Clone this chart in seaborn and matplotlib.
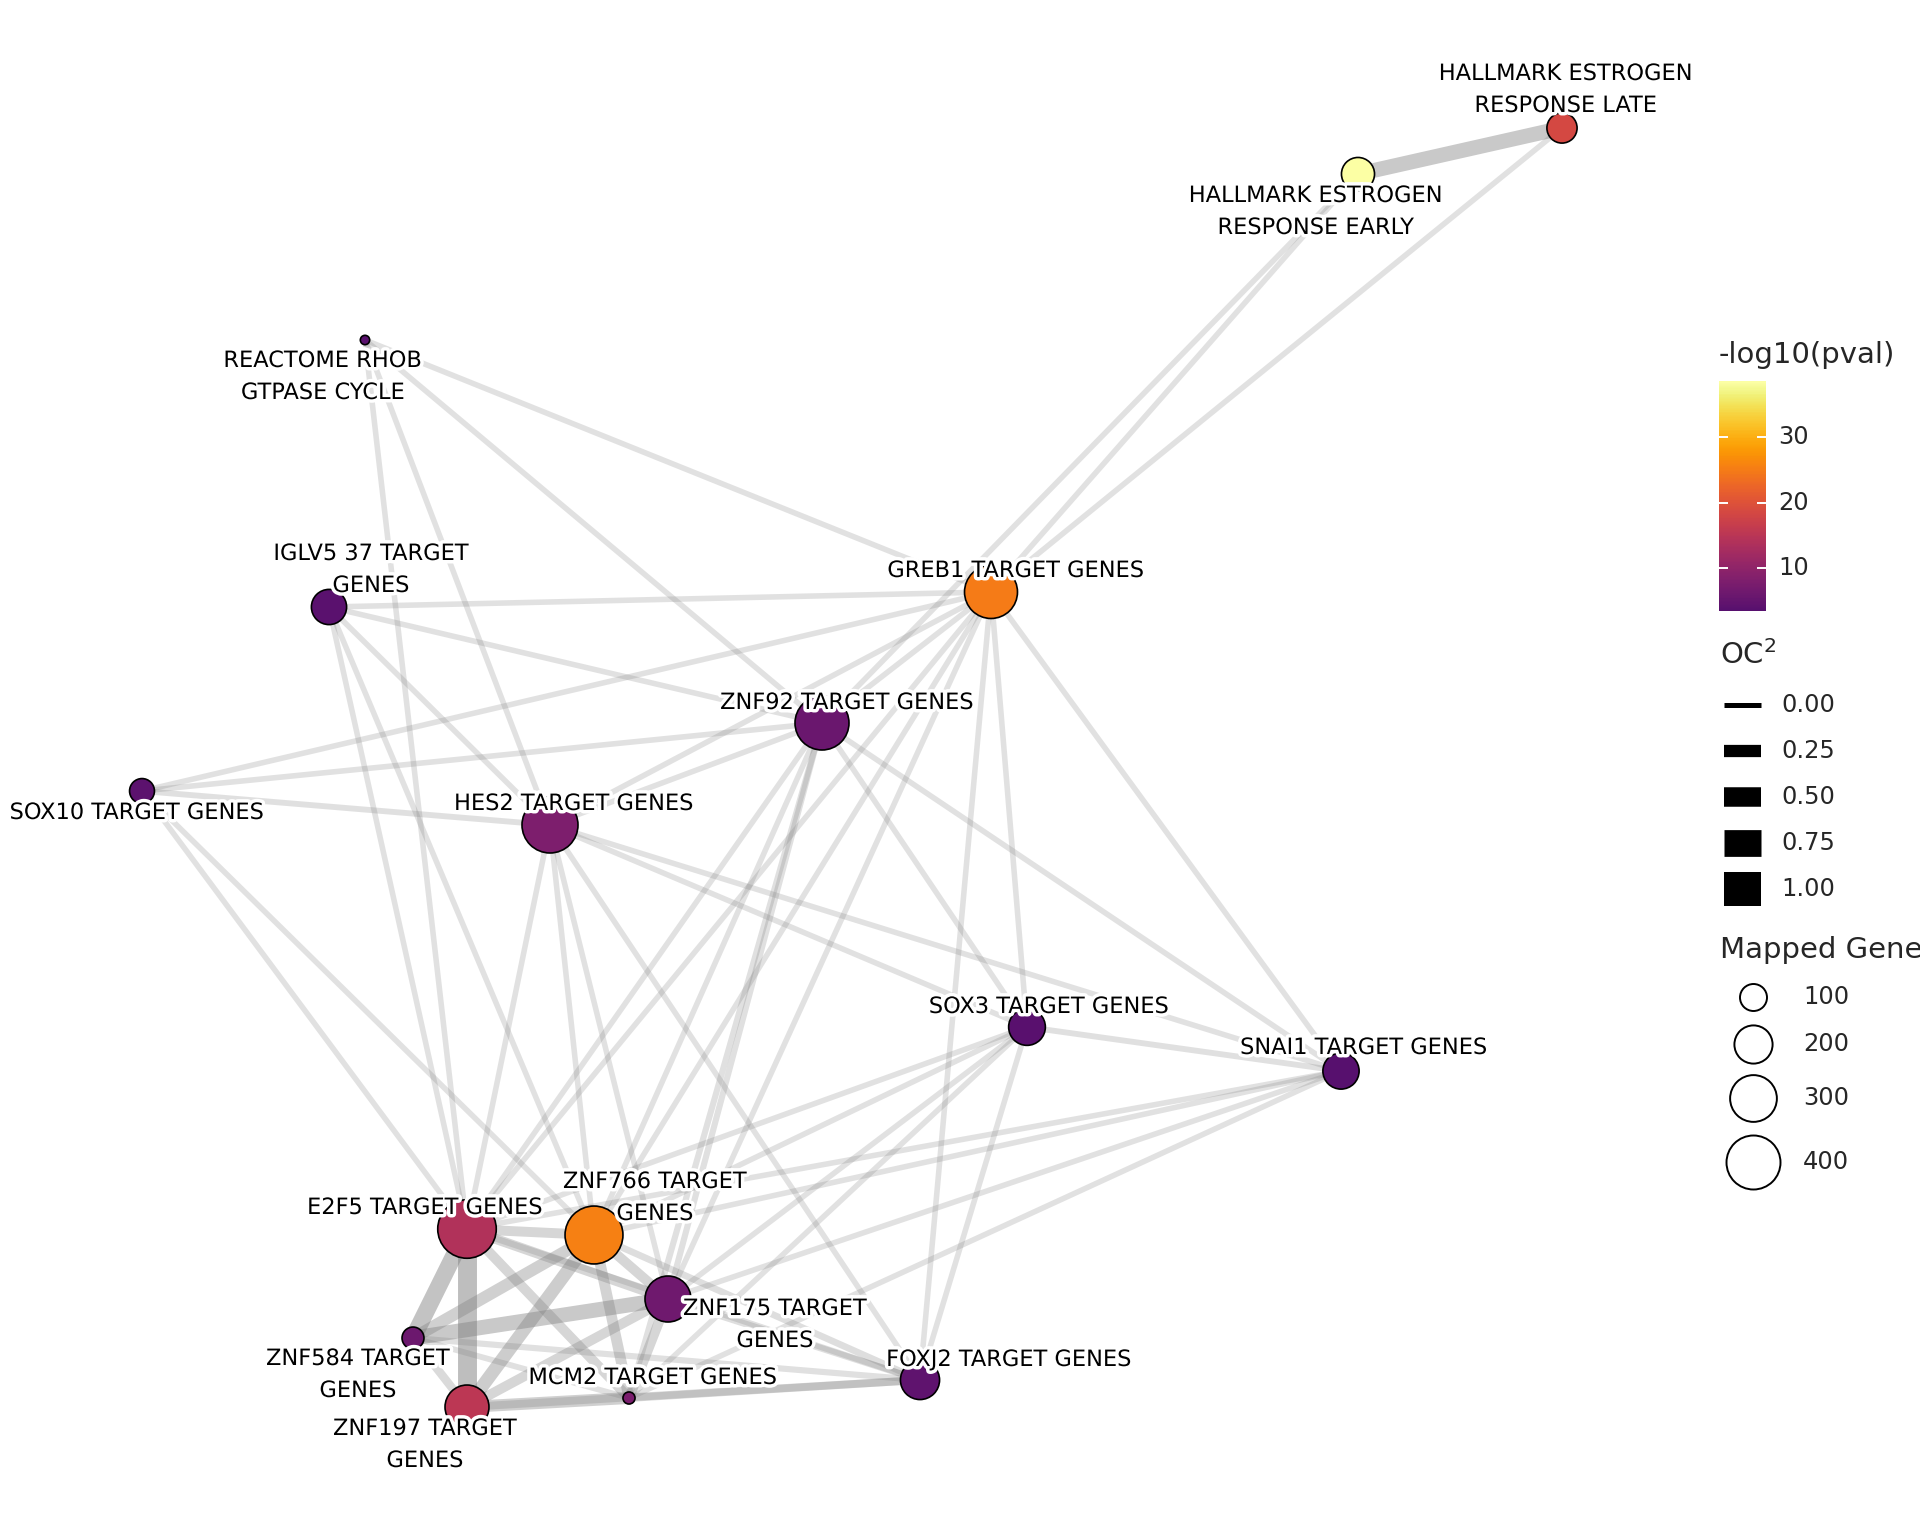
import numpy as np
import pandas as pd
import matplotlib
matplotlib.use("Agg")
import matplotlib.pyplot as plt
import matplotlib.patheffects as pe
from matplotlib.colors import ListedColormap, Normalize
from matplotlib.collections import LineCollection
import seaborn as sns

# ---------------- data ----------------
nodes = ["HALLMARK EARLY", "HALLMARK LATE", "REACTOME", "IGLV5", "GREB1", "ZNF92",
         "SOX10", "HES2", "SOX3", "SNAI1", "E2F5", "ZNF766", "ZNF175", "ZNF584",
         "MCM2", "ZNF197", "FOXJ2"]
node_labels = ["HALLMARK ESTROGEN\nRESPONSE EARLY", "HALLMARK ESTROGEN\nRESPONSE LATE",
               "REACTOME RHOB\nGTPASE CYCLE", "IGLV5 37 TARGET\nGENES", "GREB1 TARGET GENES",
               "ZNF92 TARGET GENES", "SOX10 TARGET GENES", "HES2 TARGET GENES",
               "SOX3 TARGET GENES", "SNAI1 TARGET GENES", "E2F5 TARGET GENES",
               "ZNF766 TARGET\nGENES", "ZNF175 TARGET\nGENES", "ZNF584 TARGET\nGENES",
               "MCM2 TARGET GENES", "ZNF197 TARGET\nGENES", "FOXJ2 TARGET GENES"]
# network layout coordinates
layout_x = [1358, 1562, 365, 329, 991, 822, 142, 550, 1027, 1341, 467, 594, 668, 413, 629, 467, 920]
layout_y = [174, 128, 340, 607, 592, 723, 791, 825, 1027, 1071, 1229, 1235, 1299, 1338, 1398, 1407, 1380]
neg_log10_pval = [38.4, 18.5, 4.0, 4.0, 25.0, 5.8, 4.2, 8.0, 3.8, 3.6, 14.0, 25.5, 6.3, 6.0, 7.7, 15.2, 4.5]
mapped_genes = [150, 125, 12, 170, 385, 400, 85, 430, 185, 180, 470, 460, 290, 66, 20, 265, 210]
# label anchor positions (layout units)
label_x = [1316, 1566, 323, 371, 1016, 847, 137, 574, 1049, 1364, 425, 655, 775, 358, 653, 425, 1009]
label_y = [212, 90, 377, 570, 571, 703, 813, 804, 1007, 1048, 1208, 1198, 1325, 1375, 1378, 1445, 1360]

edge_from = ["HALLMARK EARLY", "HALLMARK EARLY", "HALLMARK EARLY", "HALLMARK LATE",
             "REACTOME", "REACTOME", "REACTOME", "REACTOME",
             "IGLV5", "IGLV5", "IGLV5", "IGLV5", "IGLV5",
             "SOX10", "SOX10", "SOX10", "SOX10", "SOX10",
             "GREB1", "GREB1", "GREB1", "GREB1", "GREB1", "GREB1", "GREB1", "GREB1",
             "ZNF92", "ZNF92", "ZNF92", "ZNF92", "ZNF92", "ZNF92", "ZNF92",
             "HES2", "HES2", "HES2", "HES2", "HES2", "HES2",
             "SOX3", "SOX3", "SOX3", "SOX3", "SOX3", "SOX3",
             "SNAI1", "SNAI1", "SNAI1", "SNAI1",
             "E2F5", "E2F5", "E2F5", "E2F5", "E2F5", "E2F5",
             "ZNF766", "ZNF766", "ZNF766", "ZNF766", "ZNF766",
             "ZNF175", "ZNF175", "ZNF175", "ZNF175",
             "ZNF584", "ZNF584", "ZNF584",
             "ZNF197", "ZNF197", "MCM2"]
edge_to = ["HALLMARK LATE", "GREB1", "ZNF92", "GREB1",
           "GREB1", "ZNF92", "HES2", "E2F5",
           "GREB1", "ZNF92", "HES2", "E2F5", "ZNF766",
           "GREB1", "ZNF92", "HES2", "E2F5", "ZNF766",
           "ZNF92", "HES2", "SOX3", "SNAI1", "FOXJ2", "E2F5", "ZNF766", "ZNF175",
           "HES2", "SOX3", "SNAI1", "E2F5", "ZNF766", "ZNF175", "MCM2",
           "SOX3", "SNAI1", "FOXJ2", "E2F5", "ZNF766", "ZNF175",
           "SNAI1", "FOXJ2", "E2F5", "ZNF766", "ZNF175", "MCM2",
           "E2F5", "ZNF766", "ZNF175", "MCM2",
           "ZNF766", "ZNF197", "ZNF584", "ZNF175", "MCM2", "FOXJ2",
           "ZNF584", "ZNF197", "MCM2", "ZNF175", "FOXJ2",
           "ZNF584", "ZNF197", "MCM2", "FOXJ2",
           "ZNF197", "MCM2", "FOXJ2",
           "MCM2", "FOXJ2", "FOXJ2"]
edge_oc2 = [0.34, 0.02, 0.02, 0.02,
            0.02, 0.02, 0.02, 0.02,
            0.02, 0.02, 0.02, 0.02, 0.02,
            0.02, 0.02, 0.03, 0.02, 0.02,
            0.02, 0.02, 0.02, 0.02, 0.02, 0.02, 0.02, 0.02,
            0.02, 0.02, 0.02, 0.02, 0.02, 0.04, 0.04,
            0.02, 0.02, 0.02, 0.02, 0.02, 0.02,
            0.03, 0.02, 0.02, 0.02, 0.02, 0.02,
            0.02, 0.02, 0.02, 0.02,
            0.17, 0.48, 0.41, 0.17, 0.17, 0.04,
            0.24, 0.28, 0.20, 0.17, 0.06,
            0.34, 0.17, 0.17, 0.06,
            0.12, 0.03, 0.04,
            0.24, 0.10, 0.10]

oc_legend_values = [0.00, 0.25, 0.50, 0.75, 1.00]
genes_legend_values = [100, 200, 300, 400]
cbar_ticks = [10, 20, 30]
pval_range = (3.5, 38.6)

# ---------------- figure ----------------
DPI = 200
PX = 72.0 / DPI  # points per pixel
sns.set_theme(style="white")
plt.rcParams["font.family"] = ["DejaVu Sans"]

fig = plt.figure(figsize=(9.6, 7.68), dpi=DPI)
ax = fig.add_axes([0, 0, 1, 1])
ax.set_xlim(0, 1920)
ax.set_ylim(1536, 0)
ax.axis("off")

cmap = ListedColormap(plt.cm.inferno(np.linspace(0.25, 1.0, 256)))

pos = {n: (x, y) for n, x, y in zip(nodes, layout_x, layout_y)}


def edge_width_px(oc):
    return 5 + 29 * oc


segs, lws, cols = [], [], []
order = np.argsort(edge_oc2)
for i in order:
    a, b, w = edge_from[i], edge_to[i], edge_oc2[i]
    segs.append([pos[a], pos[b]])
    lws.append(edge_width_px(w) * PX)
    cols.append((0.5, 0.5, 0.5, min(0.22 + 0.6 * w, 0.9)))
lc = LineCollection(segs, linewidths=lws, colors=cols, capstyle="butt", zorder=1)
ax.add_collection(lc)

df = pd.DataFrame({"x": layout_x, "y": layout_y, "pval": neg_log10_pval, "genes": mapped_genes})
s_scale = (2.7 * PX) ** 2
sns.scatterplot(data=df, x="x", y="y", hue="pval", palette=cmap, hue_norm=pval_range,
                size="genes", sizes=(0, 500 * s_scale), size_norm=(0, 500),
                edgecolor="black", linewidth=0.6, legend=False, ax=ax, zorder=3)
ax.set_xlim(0, 1920)
ax.set_ylim(1536, 0)
ax.axis("off")

for lab, lx, ly in zip(node_labels, label_x, label_y):
    ax.text(lx, ly, lab, ha="center", va="center", fontsize=8.1, color="black",
            linespacing=1.75, zorder=4,
            path_effects=[pe.withStroke(linewidth=2.5, foreground="white")])

# ---------------- legends ----------------
W, H = 1920.0, 1536.0
LEG_FS = 8.7
fig.text(1719 / W, 1 - 363 / H, "-log10(pval)", fontsize=10.5, ha="left", va="baseline")
cax = fig.add_axes([1719 / W, 1 - 611 / H, 47 / W, 230 / H])
sm = plt.cm.ScalarMappable(cmap=cmap, norm=Normalize(*pval_range))
cb = fig.colorbar(sm, cax=cax, ticks=cbar_ticks)
cb.outline.set_visible(False)
cax.tick_params(length=0, labelright=False, labelleft=False)
cax.hlines(cbar_ticks, 0, 0.2, colors="white", lw=0.7)
cax.hlines(cbar_ticks, 0.8, 1.0, colors="white", lw=0.7)
cax.set_xlim(0, 1)
label_tf = cax.get_yaxis_transform()
for t in cbar_ticks:
    cax.text((1778 - 1719) / 47.0, t, f"{t}", transform=label_tf, fontsize=LEG_FS,
             ha="left", va="center", clip_on=False)

ax.text(1720, 664, "OC$^2$", fontsize=10.5, ha="left", va="baseline")
for k, v in enumerate(oc_legend_values):
    yk = 705 + 46 * k
    ax.plot([1724, 1761], [yk, yk], color="black", lw=edge_width_px(v) * PX,
            solid_capstyle="butt", zorder=5)
    ax.text(1781, yk, f"{v:.2f}", fontsize=LEG_FS, ha="left", va="center")

ax.text(1720, 958, "Mapped Genes", fontsize=10.5, ha="left", va="baseline")
size_rows = [997, 1044, 1098, 1162]
for v, yk in zip(genes_legend_values, size_rows):
    ax.scatter([1753], [yk], s=v * s_scale, facecolor="white", edgecolor="black",
               linewidth=0.7, zorder=5)
    ax.text(1803, yk, f"{v}", fontsize=LEG_FS, ha="left", va="center")

fig.savefig("out.png", dpi=DPI)
